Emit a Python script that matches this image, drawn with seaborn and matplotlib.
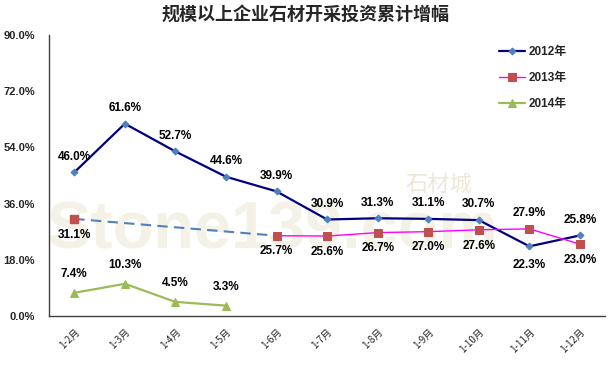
import numpy as np
import pandas as pd
import matplotlib
matplotlib.use("Agg")
import matplotlib.pyplot as plt
import seaborn as sns

# chart data
months = ['1-2月', '1-3月', '1-4月', '1-5月', '1-6月', '1-7月',
          '1-8月', '1-9月', '1-10月', '1-11月', '1-12月']
growth_2012 = [46.0, 61.6, 52.7, 44.6, 39.9, 30.9, 31.3, 31.1, 30.7, 22.3, 25.8]
growth_2013 = [31.1, None, None, None, 25.7, 25.6, 26.7, 27.0, 27.6, 27.9, 23.0]
growth_2014 = [7.4, 10.3, 4.5, 3.3, None, None, None, None, None, None, None]
yticks = [0, 18, 36, 54, 72, 90]

sns.set_style("white")
plt.rcParams['font.family'] = ['Liberation Sans', 'Noto Sans CJK SC', 'DejaVu Sans']

x = np.arange(len(months))
df = pd.DataFrame({'x': x, '2012年': growth_2012, '2013年': growth_2013, '2014年': growth_2014})
df = df.astype(float)

fig = plt.figure(figsize=(6.12, 3.73), dpi=100)
ax = fig.add_axes([0.080, 0.153, 0.909, 0.753])

# watermark (faint, behind everything)
ax.text(0.40, 0.30, 'Stone139.com', transform=ax.transAxes, fontsize=48,
        fontweight='bold', color='#f4f1e6', ha='center', va='center', zorder=0)
ax.text(0.70, 0.47, '石材城', transform=ax.transAxes, fontsize=16,
        color='#ece8d8', ha='center', va='center', zorder=0,
        family=['Noto Sans CJK SC'], style='italic')

# 2013 gap shown as dashed connector between 1-2 and 1-6
gap = df.loc[[0, 4], ['x', '2013年']]
ax.plot(gap['x'], gap['2013年'], color='#4F81BD', lw=1.5, ls=(0, (5, 3)), zorder=2)

d12 = df[['x', '2012年']].dropna()
sns.lineplot(data=d12, x='x', y='2012年', ax=ax, color='#000080', lw=1.6,
             marker='D', markersize=3.5, markerfacecolor='#4F81BD',
             markeredgecolor='#4F81BD', label='2012年', zorder=3)

d13 = df[['x', '2013年']].dropna()
d13_line = d13[d13['x'] >= 4]
sns.lineplot(data=d13_line, x='x', y='2013年', ax=ax, color='#FF00FF', lw=1.0,
             marker='s', markersize=6, markerfacecolor='#C0504D',
             markeredgecolor='#C0504D', label='2013年', zorder=3)
ax.plot([0], [growth_2013[0]], ls='none', marker='s', markersize=6,
        color='#C0504D', zorder=4)

d14 = df[['x', '2014年']].dropna()
sns.lineplot(data=d14, x='x', y='2014年', ax=ax, color='#9BBB59', lw=1.6,
             marker='^', markersize=6, markerfacecolor='#9BBB59',
             markeredgecolor='#9BBB59', label='2014年', zorder=3)

# data labels
lab_kw = dict(fontsize=8.5, fontweight='bold', ha='center', color='black', zorder=5)
for i, v in enumerate(growth_2012):
    if i == 9:
        ax.annotate(f'{v:.1f}%', (i, v), xytext=(0, -9), textcoords='offset points', va='top', **lab_kw)
    else:
        ax.annotate(f'{v:.1f}%', (i, v), xytext=(0, 7), textcoords='offset points', va='bottom', **lab_kw)
for i, v in enumerate(growth_2013):
    if v is None:
        continue
    if i == 9:
        ax.annotate(f'{v:.1f}%', (i, v), xytext=(0, 7), textcoords='offset points', va='bottom', **lab_kw)
    else:
        ax.annotate(f'{v:.1f}%', (i, v), xytext=(0, -7), textcoords='offset points', va='top', **lab_kw)
for i, v in enumerate(growth_2014):
    if v is None:
        continue
    ax.annotate(f'{v:.1f}%', (i, v), xytext=(0, 9), textcoords='offset points', va='bottom', **lab_kw)

ax.set_xlim(-0.5, len(months) - 0.5)
ax.set_ylim(0, 90)
ax.set_yticks(yticks)
ax.set_yticklabels([f'{t:.1f}%' for t in yticks], fontsize=8, fontweight='bold')
ax.set_xticks(x)
ax.set_xticklabels(months, rotation=45, ha='right', rotation_mode='anchor',
                   fontsize=7, family=['Noto Sans CJK SC'])
ax.set_xticks(np.arange(-0.5, len(months)), minor=True)
ax.tick_params(axis='x', which='major', length=0, pad=8)
ax.tick_params(axis='x', which='minor', direction='in', length=4, width=0.8, color='#404040')
ax.tick_params(axis='y', direction='out', length=4, width=0.8, color='#404040', pad=6)
ax.set_xlabel('')
ax.set_ylabel('')
for s in ['top', 'right']:
    ax.spines[s].set_visible(False)
for s in ['left', 'bottom']:
    ax.spines[s].set_color('#404040')
    ax.spines[s].set_linewidth(1.0)
ax.grid(False)

leg = ax.legend(loc='upper left', bbox_to_anchor=(0.79, 1.0), frameon=False,
                prop={'family': ['Liberation Sans', 'Noto Sans CJK SC'], 'size': 8.5, 'weight': 'bold'},
                handlelength=2.2, labelspacing=1.2, handletextpad=0.3)

fig.suptitle('规模以上企业石材开采投资累计增幅', x=0.5, y=0.985, fontsize=13,
             fontweight='bold', family=['Noto Sans CJK SC'])

fig.savefig('out.png', dpi=100)
